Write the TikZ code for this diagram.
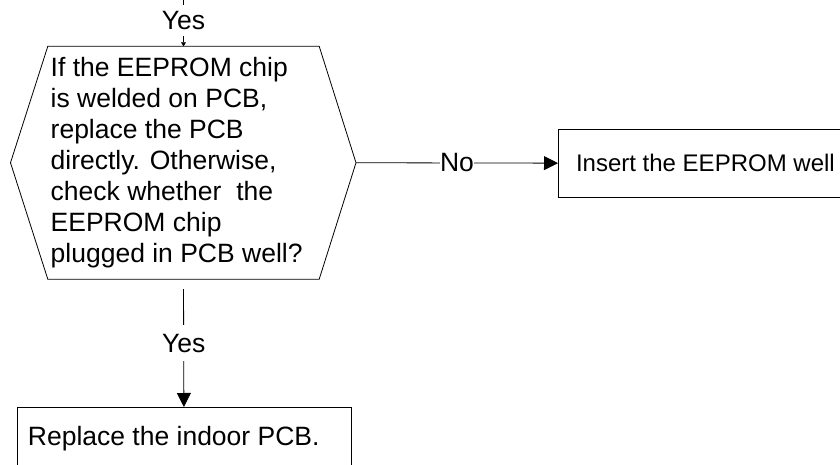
\documentclass[tikz,border=0pt]{standalone}
\usepackage{fontspec}
\setmainfont{Liberation Sans}
\usetikzlibrary{arrows.meta}
\begin{document}
\begin{tikzpicture}[x=1pt,y=-1pt,
  txt/.style={font=\fontsize{26.5}{31}\selectfont},
  smalltxt/.style={font=\fontsize{24}{30}\selectfont},
  procbox/.style={draw, line width=0.8pt, inner sep=0pt, anchor=north west},
  lbl/.style={txt, fill=white, inner sep=0pt},
  conn/.style={draw, line width=0.8pt},
  bigtip/.style={-{Triangle[length=14pt,width=14pt]}},
  smalltip/.style={-{Triangle[length=4pt,width=5pt]}},
]
\useasboundingbox (0,0) rectangle (840,465);
\clip (0,0) rectangle (840,465);
% decision hexagon
\node[minimum width=271pt, minimum height=232.5pt, inner sep=0pt] (q) at (183.5,162.75) {};
\coordinate (ql) at (10.5,162.75);
\coordinate (qr) at (356,162.75);
\draw[line width=0.8pt] (q.north west) -- (q.north east) -- (qr) -- (q.south east)
  -- (q.south west) -- (ql) -- cycle;
\node[txt, align=left, anchor=west, inner sep=0pt] (qt) at (50.5,162.5)
  {If the EEPROM chip\\is welded on PCB,\\replace the PCB\\directly. Otherwise,\\check whether~ the\\EEPROM chip\\plugged in PCB well?};
% process boxes
\node[procbox, smalltxt, minimum width=294pt, minimum height=68pt] (ins) at (558,128.75) {Insert the EEPROM well};
\node[procbox, txt, minimum width=334pt, minimum height=62pt] (rep) at (16.5,407)
  {\makebox[334pt][l]{\hspace*{11pt}Replace the indoor PCB.}};
% connectors
\coordinate (topin) at (183.5,0);
\draw[conn, smalltip] (topin) -- node[lbl, pos=0.44, inner ysep=6pt, inner xsep=1pt] {Yes} (q.north);
\draw[conn, bigtip] (qr) -- node[lbl] {No} (ins.west);
\draw[conn, bigtip, shorten <=10pt] (q.south) -- node[lbl, inner ysep=9pt, inner xsep=1pt] {Yes} (rep.north);
\end{tikzpicture}
\end{document}
